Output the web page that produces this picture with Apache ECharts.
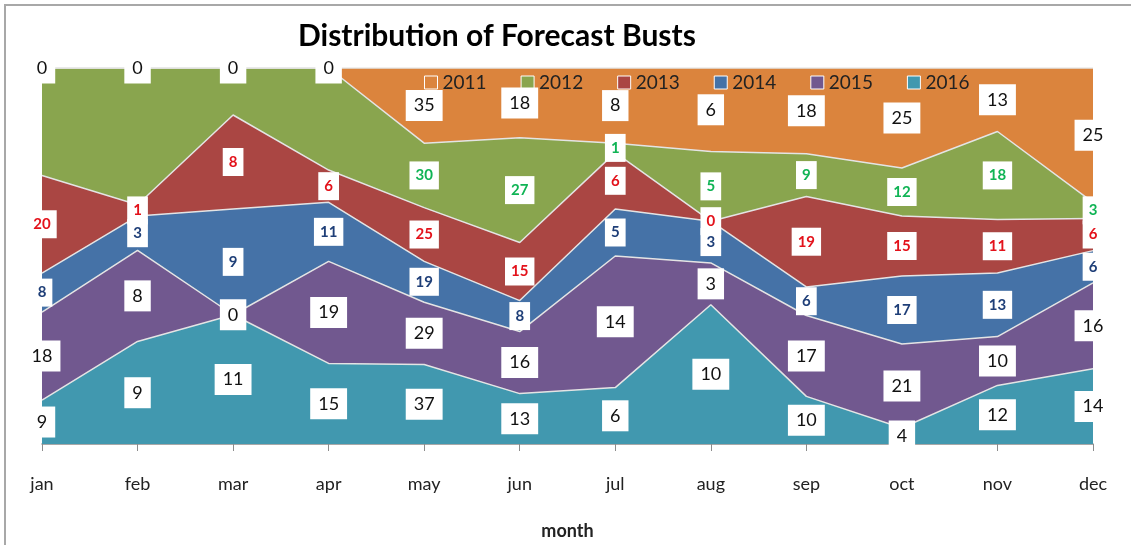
<!DOCTYPE html>
<html>
<head>
<meta charset="utf-8">
<script src="https://cdn.jsdelivr.net/npm/echarts@6/dist/echarts.min.js"></script>
<style>
  html, body { margin: 0; padding: 0; background: #fff; }
  #chart { width: 1131px; height: 545px; }
</style>
</head>
<body>
<div id="chart"></div>
<script>
// months on the x axis
var months = ['jan', 'feb', 'mar', 'apr', 'may', 'jun', 'jul', 'aug', 'sep', 'oct', 'nov', 'dec'];

// counts per year
var y2011 = [0, 0, 0, 0, 35, 18, 8, 6, 18, 25, 13, 25];
var y2012 = [22, 12, 4, 19, 30, 27, 1, 5, 9, 12, 18, 3];
var y2013 = [20, 1, 8, 6, 25, 15, 6, 0, 19, 15, 11, 6];
var y2014 = [8, 3, 9, 11, 19, 8, 5, 3, 6, 17, 13, 6];
var y2015 = [18, 8, 0, 19, 29, 16, 14, 3, 17, 21, 10, 16];
var y2016 = [9, 9, 11, 15, 37, 13, 6, 10, 10, 4, 12, 14];

// 2012 has no labels in jan..apr on the original
var hiddenLabels = { '2012': [0, 1, 2, 3] };

var chartDom = document.getElementById('chart');
var myChart = echarts.init(chartDom);
var option;

// stack order, bottom to top
var years = [
  { name: '2016', data: y2016, color: '#4198AF', text: '#111', bold: false },
  { name: '2015', data: y2015, color: '#71588F', text: '#111', bold: false },
  { name: '2014', data: y2014, color: '#4572A7', text: '#1F3F78', bold: true },
  { name: '2013', data: y2013, color: '#AA4643', text: '#E3121B', bold: true },
  { name: '2012', data: y2012, color: '#89A54E', text: '#10B455', bold: true },
  { name: '2011', data: y2011, color: '#DB843D', text: '#111', bold: false }
];

var totals = months.map(function (m, i) {
  var s = 0;
  years.forEach(function (y) { s += y.data[i]; });
  return s;
});

var series = [];
var base = months.map(function () { return 0; });

years.forEach(function (y) {
  var pct = y.data.map(function (v, i) { return v / totals[i] * 100; });
  series.push({
    name: y.name,
    type: 'line',
    stack: 'total',
    symbol: 'none',
    color: y.color,
    lineStyle: { color: '#e4e4e4', width: 1.5 },
    areaStyle: { color: y.color, opacity: 1 },
    data: pct
  });

  // labels sit in the middle of each band
  var hide = hiddenLabels[y.name] || [];
  var mids = [];
  pct.forEach(function (p, i) {
    if (hide.indexOf(i) < 0) {
      mids.push({ value: [i, base[i] + p / 2], raw: y.data[i] });
    }
    base[i] += p;
  });
  series.push({
    name: y.name + ' label',
    type: 'scatter',
    symbolSize: 2,
    itemStyle: { color: 'rgba(0,0,0,0)', opacity: 1 },
    silent: true,
    z: 10,
    label: {
      show: true,
      position: 'inside',
      formatter: function (p) { return String(p.data.raw); },
      backgroundColor: '#fff',
      opacity: 1,
      padding: y.bold ? [7, 6, 6, 6] : [7, 8, 6, 8],
      color: y.text,
      fontFamily: 'Lato',
      fontSize: y.bold ? 15 : 18,
      fontWeight: y.bold ? 'bold' : 'normal'
    },
    labelLayout: { hideOverlap: false },
    data: mids
  });
});

option = {
  animation: false,
  title: {
    text: 'Distribution of Forecast Busts',
    left: 293,
    top: 16,
    textStyle: { fontFamily: 'Lato', fontSize: 30, fontWeight: 'bold', color: '#000' }
  },
  legend: {
    data: ['2011', '2012', '2013', '2014', '2015', '2016'],
    left: 419,
    top: 68,
    icon: 'rect',
    itemWidth: 13,
    itemHeight: 13,
    itemGap: 34,
    itemStyle: { borderColor: '#fff', borderWidth: 1 },
    textStyle: { fontFamily: 'Lato', fontSize: 19, color: '#222' }
  },
  grid: { left: 42, right: 38, top: 68, bottom: 98 },
  xAxis: {
    type: 'category',
    boundaryGap: false,
    data: months,
    name: 'month',
    nameLocation: 'middle',
    nameGap: 78,
    nameTextStyle: { fontFamily: 'Lato', fontSize: 18, fontWeight: 'bold', color: '#222' },
    axisLine: { lineStyle: { color: '#8c8c8c', width: 1.5 } },
    axisTick: { show: true, length: 7, lineStyle: { color: '#8c8c8c' } },
    axisLabel: { fontFamily: 'Lato', fontSize: 18, color: '#222', margin: 31 }
  },
  yAxis: {
    type: 'value',
    min: 0,
    max: 100,
    show: false
  },
  graphic: [{
    type: 'rect',
    shape: { x: 5, y: 5, width: 1200, height: 600 },
    style: { fill: 'none', stroke: '#a8a8a8', lineWidth: 2 },
    silent: true
  }],
  series: series
};

option && myChart.setOption(option);
</script>
</body>
</html>
